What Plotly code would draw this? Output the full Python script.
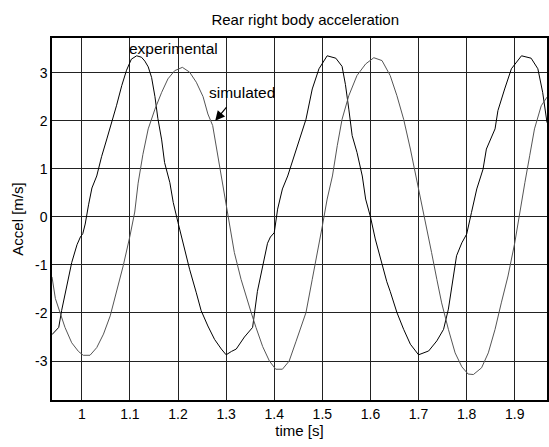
import plotly.graph_objects as go

# ---- data ----
t_exp = [0.938, 0.945, 0.952, 0.958, 0.969, 0.979, 0.990, 0.997, 1.002, 1.007,
         1.014, 1.021, 1.031, 1.041, 1.052, 1.062, 1.072, 1.083, 1.093, 1.103,
         1.114, 1.124, 1.131, 1.138, 1.145, 1.152, 1.158, 1.166, 1.172, 1.183,
         1.190, 1.200, 1.210, 1.224, 1.238, 1.248, 1.262, 1.276, 1.290, 1.300,
         1.311, 1.321, 1.338, 1.348, 1.355, 1.365, 1.376, 1.386, 1.392, 1.400,
         1.407, 1.417, 1.428, 1.441, 1.452, 1.466, 1.479, 1.493, 1.510, 1.528,
         1.541, 1.548, 1.555, 1.562, 1.572, 1.583, 1.590, 1.600, 1.610, 1.621,
         1.634, 1.641, 1.655, 1.669, 1.683, 1.700, 1.721, 1.738, 1.752, 1.762,
         1.772, 1.779, 1.790, 1.800, 1.810, 1.821, 1.834, 1.841, 1.859, 1.865,
         1.879, 1.893, 1.914, 1.934, 1.948, 1.958, 1.967]
acc_exp = [-2.45, -2.38, -2.30, -1.95, -1.45, -0.95, -0.58, -0.42, -0.35, -0.15,
           0.25, 0.60, 0.85, 1.25, 1.62, 1.96, 2.31, 2.73, 3.05, 3.28,
           3.35, 3.32, 3.24, 3.12, 2.90, 2.50, 2.05, 1.60, 1.13, 0.71,
           0.30, -0.12, -0.54, -1.09, -1.58, -1.95, -2.27, -2.55, -2.75, -2.87,
           -2.80, -2.75, -2.50, -2.38, -2.30, -1.55, -1.02, -0.55, -0.42, -0.33,
           0.16, 0.58, 0.85, 1.27, 1.62, 2.03, 2.66, 3.08, 3.35, 3.30,
           3.13, 2.75, 2.24, 1.69, 1.34, 0.85, 0.37, 0.00, -0.46, -0.88,
           -1.35, -1.55, -1.99, -2.34, -2.65, -2.87, -2.79, -2.58, -2.34, -1.92,
           -1.30, -0.81, -0.54, -0.36, 0.09, 0.58, 0.99, 1.41, 1.83, 2.21,
           2.66, 3.08, 3.35, 3.30, 3.08, 2.59, 1.96]

t_sim = [0.938, 0.945, 0.955, 0.965, 0.979, 0.993, 1.003, 1.017, 1.031, 1.045,
         1.059, 1.072, 1.086, 1.100, 1.110, 1.117, 1.127, 1.138, 1.152, 1.166,
         1.179, 1.193, 1.209, 1.224, 1.238, 1.252, 1.262, 1.272, 1.285, 1.297,
         1.307, 1.317, 1.331, 1.341, 1.352, 1.362, 1.376, 1.390, 1.403, 1.417,
         1.431, 1.445, 1.452, 1.466, 1.479, 1.490, 1.500, 1.510, 1.521, 1.531,
         1.541, 1.555, 1.572, 1.590, 1.607, 1.624, 1.641, 1.655, 1.669, 1.683,
         1.696, 1.707, 1.717, 1.727, 1.738, 1.748, 1.762, 1.776, 1.790, 1.803,
         1.814, 1.831, 1.845, 1.859, 1.872, 1.886, 1.900, 1.910, 1.921, 1.931,
         1.941, 1.955, 1.967]
acc_sim = [-1.25, -1.70, -2.00, -2.30, -2.62, -2.80, -2.88, -2.88, -2.72, -2.44,
           -2.06, -1.58, -1.02, -0.40, 0.10, 0.70, 1.30, 1.83, 2.24, 2.59,
           2.87, 3.04, 3.11, 3.01, 2.80, 2.50, 2.14, 1.90, 1.15, 0.44,
           -0.19, -0.74, -1.30, -1.65, -1.99, -2.30, -2.70, -3.00, -3.17, -3.17,
           -3.00, -2.60, -2.40, -1.99, -1.30, -0.74, -0.19, 0.37, 0.85, 1.48,
           2.03, 2.52, 2.94, 3.18, 3.31, 3.25, 2.94, 2.52, 2.03, 1.41,
           0.79, 0.23, -0.26, -0.74, -1.30, -1.79, -2.34, -2.83, -3.12, -3.27,
           -3.28, -3.14, -2.83, -2.34, -1.79, -1.23, -0.54, 0.09, 0.71, 1.27,
           1.83, 2.31, 2.49]

x_ticks = [1.0, 1.1, 1.2, 1.3, 1.4, 1.5, 1.6, 1.7, 1.8, 1.9]
x_labels = ["1", "1.1", "1.2", "1.3", "1.4", "1.5", "1.6", "1.7", "1.8", "1.9"]
y_ticks = [-3, -2, -1, 0, 1, 2, 3]
y_labels = ["-3", "-2", "-1", "0", "1", "2", "3"]

FONT = "Arial, Liberation Sans, Helvetica, sans-serif"

fig = go.Figure()
fig.add_trace(go.Scatter(x=t_exp, y=acc_exp, mode="lines", name="experimental",
                         line=dict(color="#000000", width=1)))
fig.add_trace(go.Scatter(x=t_sim, y=acc_sim, mode="lines", name="simulated",
                         line=dict(color="#555555", width=1)))

fig.update_layout(
    width=549, height=447,
    margin=dict(l=52, r=0, t=38, b=47),
    paper_bgcolor="white", plot_bgcolor="white",
    showlegend=False,
    font=dict(family=FONT, size=14, color="black"),
    title=dict(text="Rear right body acceleration", x=0.556, xanchor="center",
               y=0.955, yanchor="middle", font=dict(family=FONT, size=15, color="black")),
    xaxis=dict(range=[0.938, 1.967], tickvals=x_ticks, ticktext=x_labels,
               showgrid=True, gridcolor="#222222", gridwidth=1,
               showline=True, linecolor="black", linewidth=1.5, mirror=True,
               zeroline=False, ticks="", tickfont=dict(family=FONT, size=14, color="black"),
               title=dict(text="time [s]", font=dict(family=FONT, size=15, color="black"),
                          standoff=4)),
    yaxis=dict(range=[-3.81, 3.72], tickvals=y_ticks, ticktext=y_labels,
               showgrid=True, gridcolor="#222222", gridwidth=1,
               showline=True, linecolor="black", linewidth=1.5, mirror=True,
               zeroline=False, ticks="", tickfont=dict(family=FONT, size=14, color="black"),
               title=dict(text="Accel [m/s]", font=dict(family=FONT, size=15, color="black"),
                          standoff=8)),
    annotations=[
        dict(x=1.1906, y=3.5, xref="x", yref="y", text="experimental",
             showarrow=False, font=dict(family=FONT, size=15.5, color="black")),
        dict(x=1.3323, y=2.59, xref="x", yref="y", text="simulated",
             showarrow=False, font=dict(family=FONT, size=15.5, color="black")),
        dict(x=1.2773, y=2.0, xref="x", yref="y", text="", showarrow=True,
             ax=12.6, ay=-15, axref="pixel", ayref="pixel",
             arrowhead=2, arrowsize=1.6, arrowwidth=1.2, arrowcolor="black", standoff=0),
    ],
)

fig.write_html("out.html")
